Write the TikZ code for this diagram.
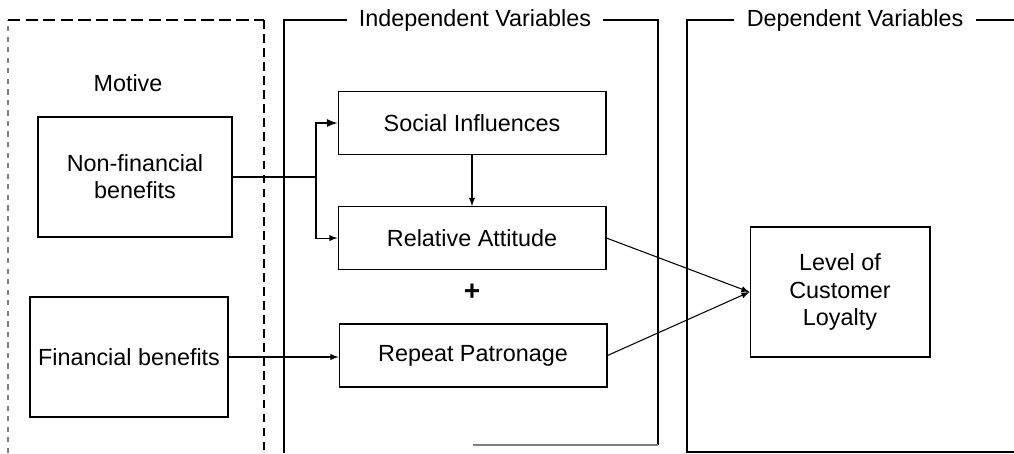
\documentclass[tikz,border=0pt]{standalone}
\usepackage{fontspec}
\setmainfont{Liberation Sans}
\usepackage{tikz}
\usetikzlibrary{positioning}

\begin{document}
\begin{tikzpicture}[x=0.02cm,y=-0.02cm,font=\fontsize{13.3}{15.5}\selectfont,
    box/.style={draw,line width=0.6pt,align=center,inner sep=0pt},
    varbox/.style={box,minimum width=5.36cm,minimum height=1.26cm},
    panel/.style={line width=0.6pt},
    title/.style={fill=white,inner xsep=0.24cm,inner ysep=2pt},
    link/.style={line width=0.6pt,-latex}]
    \useasboundingbox (0,0) rectangle (1014,453);
    % Motive panel
    \draw[panel,gray,dash pattern=on 3pt off 3pt] (8,453) -- (8,20);
    \draw[panel,dash pattern=on 7pt off 3pt] (8,20) -- (264,20);
    \draw[panel,dash pattern=on 5pt off 3pt] (264,20) -- (264,453);
    \node (motive) at (128,83) {Motive};
    \node[box,minimum width=3.88cm,minimum height=2.4cm] (nonfin) at (135,177) {Non-financial\\benefits};
    \node[box,minimum width=3.96cm,minimum height=2.4cm] (fin) at (129,357) {Financial benefits};
    % Independent panel
    \node[title] (indep) at (475,20) {Independent Variables};
    \draw[panel] (284,453) -- (284,20) -- (indep.west);
    \draw[panel] (indep.east) -- (658,20) -- (658,445);
    \draw[panel,gray] (658,445) -- (473,445);
    \node[varbox] (social) at (472,123) {Social Influences};
    \node[varbox,below=1.02cm of social] (relative) {Relative Attitude};
    \node[font=\fontsize{16}{16}\selectfont\bfseries] (plus) at (472,292) {+};
    \node[varbox] (repeat) at (473,355.5) {Repeat Patronage};
    % Dependent panel
    \node[title] (dep) at (855,20) {Dependent Variables};
    \draw[panel] (1014,452) -- (687,452) -- (687,20) -- (dep.west);
    \draw[panel] (dep.east) -- (1014,20);
    \node[box,minimum width=3.6cm,minimum height=2.6cm] (level) at (840,292) {Level of\\Customer\\Loyalty};
    % connectors
    \coordinate (split) at (316,177);
    \draw[line width=1.1pt] (nonfin.east) -- (split);
    \draw[link,line width=1.1pt] (split) |- (social.west);
    \draw[link] (split) |- (relative.west);
    \draw[link] (fin.east) -- (fin.east -| repeat.west);
    \draw[link] (social.south) -- (relative.north);
    \draw[link] (relative.east) -- (level.west);
    \draw[link] (repeat.east) -- (level.west);
\end{tikzpicture}
\end{document}
